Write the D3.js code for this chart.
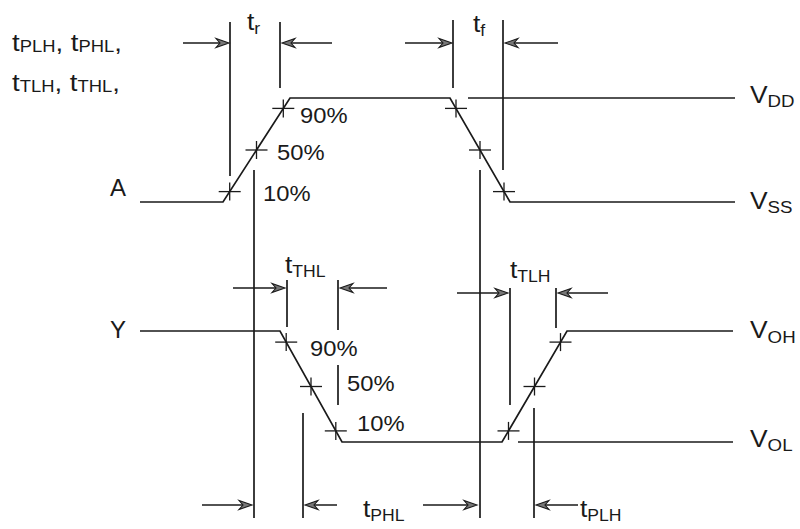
<!DOCTYPE html>
<html><head><meta charset="utf-8">
<script src="https://cdn.jsdelivr.net/npm/d3@7"></script>
<style>html,body{margin:0;padding:0;background:#fff;}svg{display:block;}</style>
</head><body>
<svg id="c" width="800" height="529"></svg>
<script>
// ---------------- data (time in arbitrary units, level 0 = low, 1 = high) ----------------
const waveA = [[0,0],[83,0],[150,1],[310,1],[370,0],[595,0]];
const waveY = [[0,1],[140,1],[202,0],[362,0],[427,1],[593,1]];
const edgesA = [[83,150],[310,370]];
const edgesY = [[140,202],[362,427]];
const crossLevels = [0.1, 0.5, 0.9];
const refVDD = [328, 595];
const refVOL = [378, 593];
const markerTimes = [90, 140, 313, 363, 114, 340, 147, 198, 198, 163, 370, 416, 394];
const arrowFrom = [43, 192, 265, 418, 93, 247, 317, 468, 62, 197, 283, 438];
const arrowTo   = [89, 142, 312, 365, 145, 200, 368, 418, 112, 165, 337, 396];
const timingNames = ["t|r","t|f","t|THL","t|TLH","t|PHL","t|PLH"];
const timingTimes = [107, 333, 145, 370, 223, 440];
const pctLabels = ["10%","50%","90%"];

// ---------------- layout ----------------
const svg = d3.select("#c");
const x = d3.scaleLinear().domain([0, 600]).range([140, 740]);
const yA = d3.scaleLinear().domain([0, 1]).range([202, 98]);
const yY = d3.scaleLinear().domain([0, 1]).range([442, 331]);
const ink = "#1a1a1a";
const line = (ys) => d3.line().x(d => x(d[0])).y(d => ys(d[1]));

// waveforms
svg.append("path").attr("d", line(yA)(waveA)).attr("fill","none").attr("stroke",ink).attr("stroke-width",1.7);
svg.append("path").attr("d", line(yY)(waveY)).attr("fill","none").attr("stroke",ink).attr("stroke-width",1.7);
// reference lines
svg.append("path").attr("d", line(yA)([[refVDD[0],1],[refVDD[1],1]])).attr("stroke",ink).attr("stroke-width",1.7);
svg.append("path").attr("d", line(yY)([[refVOL[0],0],[refVOL[1],0]])).attr("stroke",ink).attr("stroke-width",1.7);

// crossing ticks
function crosses(edges, ys, risingIdx) {
  edges.forEach((e, k) => {
    const rising = k === risingIdx;
    crossLevels.forEach(p => {
      const frac = rising ? p : 1 - p;
      const t = e[0] + (e[1]-e[0]) * frac;
      const cx = x(t), cy = ys(p);
      svg.append("line").attr("x1",cx-11).attr("x2",cx+11).attr("y1",cy).attr("y2",cy).attr("stroke",ink).attr("stroke-width",1.3);
      svg.append("line").attr("x1",cx).attr("x2",cx).attr("y1",cy-9).attr("y2",cy+9).attr("stroke",ink).attr("stroke-width",1.3);
    });
  });
}
crosses(edgesA, yA, 0);
crosses(edgesY, yY, 1);

// vertical marker lines (vertical extents are layout)
const markerSpan = [[22,176],[22,88],[20,88],[20,170],[170,518],[170,518],[280,327],[280,330],[365,405],[413,518],[288,405],[288,328],[408,518]];
markerTimes.forEach((t,i) => {
  svg.append("line").attr("x1",x(t)).attr("x2",x(t)).attr("y1",markerSpan[i][0]).attr("y2",markerSpan[i][1])
    .attr("stroke",ink).attr("stroke-width",1.7);
});

// arrows
const arrowY = [43,43,43,43,288,288,293,293,505,505,505,505];
arrowFrom.forEach((f,i) => {
  const t = arrowTo[i], yy = arrowY[i];
  const x0 = x(f), x1 = x(t), dir = x1 > x0 ? 1 : -1;
  svg.append("line").attr("x1",x0).attr("x2",x1 - dir*4).attr("y1",yy).attr("y2",yy).attr("stroke",ink).attr("stroke-width",1.5);
  const p = d3.path();
  p.moveTo(x1, yy); p.lineTo(x1 - dir*13, yy-4.5); p.lineTo(x1 - dir*9, yy); p.lineTo(x1 - dir*13, yy+4.5); p.closePath();
  svg.append("path").attr("d", p.toString()).attr("fill","#777").attr("stroke",ink).attr("stroke-width",1.1);
});

// text helpers
const font = "'Liberation Sans', Arial, Helvetica, sans-serif";
function subText(px, py, parts, mainSize, subSize, subDy, sx) {
  const g = svg.append("g").attr("transform", `translate(${px},${py}) scale(${sx||1.1},1)`);
  const t = g.append("text").attr("font-family",font).attr("fill",ink);
  parts.forEach(pt => {
    if (pt.sub) {
      t.append("tspan").attr("font-size",subSize).attr("dy",subDy).text(pt.s);
    } else {
      t.append("tspan").attr("font-size",mainSize).attr("dy",pt.back ? -subDy : 0).text(pt.s);
    }
  });
  return g;
}
function timing(name, px, py, ms, ss, dy) {
  const [a,b] = name.split("|");
  subText(px, py, [{s:a},{s:b,sub:true}], ms, ss, dy, 1.1);
}

// left header
subText(12, 51, [{s:"t"},{s:"PLH",sub:true},{s:", t",back:true},{s:"PHL",sub:true},{s:",",back:true}], 24, 16, 1, 1.15);
subText(12, 91, [{s:"t"},{s:"TLH",sub:true},{s:", t",back:true},{s:"THL",sub:true},{s:",",back:true}], 24, 16, 1, 1.15);

// timing labels
const timingY = [30, 32, 273, 278, 517, 517];
timingNames.forEach((n,i) => timing(n, x(timingTimes[i]), timingY[i], 24, 16, 4));

// signal names
svg.append("text").attr("x",110).attr("y",196).attr("font-family",font).attr("font-size",24).attr("fill",ink).text("A");
svg.append("text").attr("x",110).attr("y",338).attr("font-family",font).attr("font-size",24).attr("fill",ink).text("Y");

// level names
subText(750, 103, [{s:"V"},{s:"DD",sub:true}], 24, 17, 4, 1.1);
subText(750, 209, [{s:"V"},{s:"SS",sub:true}], 24, 17, 4, 1.1);
subText(750, 338, [{s:"V"},{s:"OH",sub:true}], 24, 17, 5, 1.1);
subText(750, 447, [{s:"V"},{s:"OL",sub:true}], 24, 17, 4, 1.1);

// percent labels
const pctA = [[263,201],[277,160],[300,123]];
const pctY = [[357,431],[347,391],[310,356]];
pctLabels.forEach((s,i) => {
  [pctA, pctY].forEach(arr => {
    svg.append("g").attr("transform",`translate(${arr[i][0]},${arr[i][1]}) scale(1.08,1)`)
      .append("text").attr("font-family",font).attr("font-size",22).attr("fill",ink).text(s);
  });
});
</script>
</body></html>
